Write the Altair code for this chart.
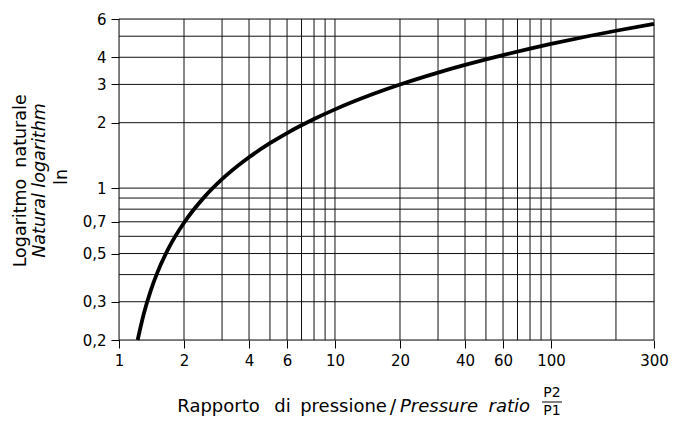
import altair as alt
import pandas as pd

# Curve: pressure ratio vs natural logarithm
ratio = [1.22, 1.3, 1.4, 1.5, 1.7, 2, 2.5, 3, 4, 5, 6, 8, 10, 15, 20, 30, 40, 60, 80, 100, 150, 200, 300]
ln_val = [0.2, 0.262, 0.336, 0.405, 0.531, 0.693, 0.916, 1.099, 1.386, 1.609, 1.792, 2.079, 2.303,
          2.708, 2.996, 3.401, 3.689, 4.094, 4.382, 4.605, 5.011, 5.298, 5.704]

x_grid = [1, 2, 3, 4, 5, 6, 7, 8, 9, 10, 20, 30, 40, 50, 60, 70, 80, 90, 100, 200, 300]
y_grid = [0.2, 0.3, 0.4, 0.5, 0.6, 0.7, 0.8, 0.9, 1, 2, 3, 4, 5, 6]
x_labels = [1, 2, 4, 6, 10, 20, 40, 60, 100, 300]
y_labels = [0.2, 0.3, 0.5, 0.7, 1, 2, 3, 4, 6]

FONT = "DejaVu Sans"

xs = alt.Scale(type="log", domain=[1, 300], nice=False)
ys = alt.Scale(type="log", domain=[0.2, 6], nice=False)

curve_df = pd.DataFrame({"r": ratio, "v": ln_val})
xg_df = pd.DataFrame({"r": x_grid})
yg_df = pd.DataFrame({"v": y_grid})
dummy = pd.DataFrame({"a": [0]})

xgrid = alt.Chart(xg_df).mark_rule(color="#111", strokeWidth=1).encode(
    x=alt.X("r:Q", scale=xs, axis=alt.Axis(
        values=x_labels, title=None, grid=False, domain=False, ticks=True,
        tickSize=8, tickColor="#000", labelFont=FONT, labelFontSize=15,
        labelColor="#000", labelPadding=5, labelExpr="toString(datum.value)",
        labelFlush=False, labelOverlap=False))
)
ygrid = alt.Chart(yg_df).mark_rule(color="#111", strokeWidth=1).encode(
    y=alt.Y("v:Q", scale=ys, axis=alt.Axis(
        values=y_labels, title=None, grid=False, domain=False, ticks=True,
        tickSize=8, tickColor="#000", labelFont=FONT, labelFontSize=15,
        labelColor="#000", labelPadding=5,
        labelExpr="replace(toString(datum.value), '.', ',')",
        labelFlush=False, labelOverlap=False))
)
line = alt.Chart(curve_df).mark_line(color="#000", strokeWidth=3.8, interpolate="monotone").encode(
    x=alt.X("r:Q", scale=xs), y=alt.Y("v:Q", scale=ys)
)


def txt(s, x, y, size=18, italic=False, align="center", baseline="alphabetic", angle=0):
    kw = dict(text=s, font=FONT, fontSize=size, color="#000", align=align,
              baseline=baseline, angle=angle)
    if italic:
        kw["fontStyle"] = "italic"
    return alt.Chart(dummy).mark_text(**kw).encode(x=alt.value(x), y=alt.value(y))


texts = [
    txt("Logaritmo", -98, 204, size=17.5, angle=270, baseline="middle"),
    txt("naturale", -98, 112, size=17.5, angle=270, baseline="middle"),
    txt("Natural logarithm", -79, 161.5, size=17.5, italic=True, angle=270, baseline="middle"),
    txt("ln", -57, 158, size=17.5, angle=270, baseline="middle"),
    txt("Rapporto", 99.5, 393),
    txt("di", 163.5, 393),
    txt("pressione", 224.5, 393),
    txt("/", 274, 394, size=19),
    txt("Pressure", 281, 393, italic=True, align="left"),
    txt("ratio", 411, 393, italic=True, align="right"),
    txt("P2", 433, 378, size=14),
    txt("P1", 433, 396, size=14),
]
bar = alt.Chart(dummy).mark_rule(color="#000", strokeWidth=1).encode(
    x=alt.value(423), x2=alt.value(443), y=alt.value(383)
)

chart = alt.layer(xgrid, ygrid, line, *texts, bar).properties(
    width=535, height=321,
    padding={"left": 111, "top": 11, "right": 15, "bottom": 79},
    autosize=alt.AutoSizeParams(type="none"),
).configure_view(stroke=None).configure(background="white")

chart.save("out.html", embed_options={"renderer": "svg", "actions": False})
